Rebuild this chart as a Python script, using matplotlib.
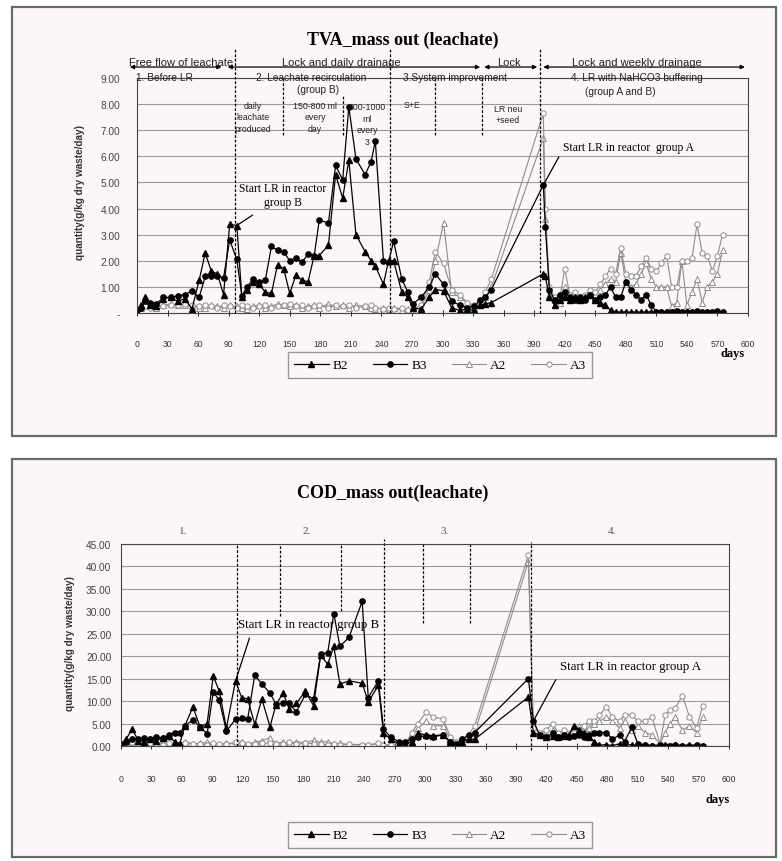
import matplotlib
matplotlib.use('Agg')
import matplotlib.pyplot as plt
from matplotlib.patches import Rectangle

# ---- TVA mass out (leachate), g/kg dry waste/day ----
tva_days = [0, 4, 8, 13, 19, 26, 33, 40, 47, 54,
            61, 67, 73, 79, 85, 91, 98, 103, 108, 114,
            120, 126, 132, 138, 144, 150, 156, 162, 168, 174,
            179, 188, 195, 202, 208, 215, 224, 230, 234, 242,
            247, 252, 260, 266, 271, 279, 287, 293, 301, 309,
            317, 324, 331, 337, 342, 348, 399, 401, 405, 410,
            415, 420, 425, 430, 435, 440, 445, 450, 455, 460,
            465, 470, 475, 480, 485, 490, 495, 500, 505, 510,
            515, 520, 525, 530, 535, 540, 545, 550, 555, 560,
            565, 570, 575]
tva_b2 = [0.05, 0.3, 0.6, 0.3, 0.25, 0.55, 0.6, 0.45, 0.55, 0.15,
          1.25, 2.3, 1.6, 1.5, 0.7, 3.4, 3.35, 0.6, 0.9, 1.2,
          1.1, 0.8, 0.75, 1.85, 1.7, 0.75, 1.45, 1.25, 1.2, 2.2,
          2.2, 2.6, 5.3, 4.4, 5.85, 3.0, 2.35, 2.0, 1.8, 1.1,
          2.0, 2.0, 0.8, 0.6, 0.2, 0.15, 0.6, 0.9, 0.85, 0.2,
          0.1, 0.15, 0.1, 0.3, 0.35, 0.4, 1.5, 1.4, 0.6, 0.3,
          0.5, 0.6, 0.5, 0.6, 0.5, 0.6, 0.7, 0.5, 0.4, 0.3,
          0.1, 0.05, 0.03, 0.05, 0.02, 0.05, 0.03, 0.05, 0.04, 0.05,
          0.03, 0.05, 0.02, 0.05, 0.03, 0.05, 0.04, 0.05, 0.03, 0.05,
          0.02, 0.05, 0.03]
tva_b3 = [0.1, 0.2, 0.45, 0.4, 0.35, 0.6, 0.6, 0.65, 0.7, 0.85,
          0.6, 1.4, 1.4, 1.4, 1.35, 2.8, 2.05, 0.65, 1.0, 1.3,
          1.2, 1.25, 2.55, 2.4, 2.35, 2.0, 2.1, 1.95, 2.25, 2.2,
          3.55, 3.45, 5.65, 5.1, 7.9, 5.9, 5.3, 5.8, 6.6, 2.0,
          1.95, 2.75, 1.3, 0.8, 0.35, 0.6, 1.0, 1.5, 1.1, 0.45,
          0.3, 0.2, 0.25, 0.5, 0.6, 0.9, 4.9, 3.3, 0.9, 0.5,
          0.7, 0.8, 0.6, 0.5, 0.6, 0.5, 0.7, 0.5, 0.6, 0.7,
          1.0, 0.6, 0.6, 1.2, 0.9, 0.7, 0.5, 0.7, 0.3, 0.05,
          0.05, 0.04, 0.05, 0.06, 0.05, 0.04, 0.05, 0.06, 0.05, 0.04,
          0.05, 0.06, 0.05]
tva_a2 = [0.05, 0.2, 0.3, 0.25, 0.2, 0.3, 0.35, 0.3, 0.3, 0.25,
          0.2, 0.2, 0.3, 0.25, 0.2, 0.3, 0.25, 0.2, 0.15, 0.25,
          0.3, 0.2, 0.25, 0.35, 0.3, 0.25, 0.3, 0.2, 0.25, 0.3,
          0.2, 0.35, 0.25, 0.3, 0.2, 0.3, 0.25, 0.2, 0.15, 0.2,
          0.15, 0.2, 0.1, 0.15, 0.1, 0.2, 0.9, 2.0, 3.45, 0.8,
          0.6, 0.4, 0.2, 0.3, 0.6, 1.0, 6.7, 3.6, 0.7, 0.5,
          0.4, 1.0, 0.6, 0.7, 0.5, 0.6, 0.8, 0.7, 0.9, 1.1,
          1.3, 1.2, 2.3, 1.2, 1.0, 1.1, 1.5, 1.9, 1.3, 1.0,
          1.0, 1.0, 0.25, 0.4, 2.0, 0.3, 0.8, 1.3, 0.4, 1.0,
          1.2, 1.5, 2.4]
tva_a3 = [0.1, 0.2, 0.25, 0.2, 0.3, 0.25, 0.3, 0.3, 0.35, 0.3,
          0.25, 0.3, 0.25, 0.2, 0.3, 0.25, 0.2, 0.3, 0.25, 0.2,
          0.25, 0.3, 0.2, 0.25, 0.3, 0.35, 0.25, 0.3, 0.2, 0.25,
          0.3, 0.2, 0.3, 0.25, 0.3, 0.2, 0.25, 0.3, 0.2, 0.15,
          0.2, 0.15, 0.2, 0.1, 0.15, 0.3, 1.2, 2.35, 1.9, 0.9,
          0.7, 0.4, 0.3, 0.4, 0.8, 1.3, 7.65, 4.0, 1.0, 0.6,
          0.5, 1.7, 0.7, 0.8, 0.6, 0.7, 0.9, 0.8, 1.1, 1.4,
          1.7, 1.5, 2.5, 1.5, 1.4, 1.4, 1.8, 2.1, 1.7, 1.6,
          1.9, 2.2, 1.0, 1.0, 2.0, 2.0, 2.1, 3.4, 2.3, 2.2,
          1.6, 2.2, 3.0]

# ---- COD mass out (leachate), g/kg dry waste/day ----
cod_days = [0, 5, 11, 17, 23, 29, 35, 41, 47, 53,
            58, 63, 71, 78, 85, 91, 97, 104, 113, 119,
            125, 132, 139, 147, 153, 160, 166, 173, 182, 190,
            197, 204, 210, 216, 225, 238, 244, 254, 259, 266,
            274, 280, 287, 293, 301, 308, 318, 325, 331, 337,
            343, 349, 402, 407, 413, 419, 426, 431, 437, 442,
            447, 452, 457, 462, 467, 472, 479, 485, 492, 497,
            504, 510, 517, 524, 532, 537, 542, 547, 554, 561,
            568, 574]
cod_b2 = [0.3, 1.5, 3.8, 1.2, 1.0, 1.5, 1.2, 1.8, 2.2, 1.0,
          0.5, 4.5, 8.7, 4.3, 5.0, 15.6, 12.2, 4.0, 14.5, 10.8,
          10.5, 4.8, 10.5, 4.3, 9.2, 11.8, 8.3, 9.5, 12.2, 9.0,
          20.2, 18.2, 22.2, 13.8, 14.5, 14.0, 9.8, 13.5, 3.0, 1.5,
          0.5, 0.3, 1.0, 2.8, 2.5, 2.3, 2.5, 0.8, 0.3, 1.0,
          1.5, 1.5, 10.9, 3.0, 2.5, 2.0, 2.3, 2.0, 2.2, 2.5,
          4.5, 3.5, 3.0, 2.0, 1.0, 0.2, 0.3, 0.1, 0.5, 0.2,
          0.3, 0.1, 0.2, 0.1, 0.1, 0.2, 0.1, 0.2, 0.1, 0.2,
          0.1, 0.1]
cod_b3 = [0.5, 1.0, 1.5, 1.5, 1.8, 1.5, 2.0, 1.8, 2.5, 3.0,
          2.8, 4.5, 5.8, 4.3, 2.7, 12.0, 10.2, 3.3, 6.0, 6.2,
          6.0, 15.8, 13.8, 11.8, 9.3, 9.5, 9.5, 7.6, 11.5, 10.5,
          20.5, 20.8, 29.5, 22.2, 24.2, 32.2, 10.8, 14.5, 3.8, 2.0,
          1.0, 1.0, 1.5, 2.0, 2.3, 2.0, 2.5, 0.8, 0.5, 1.5,
          2.5, 3.0, 15.0, 5.6, 2.5, 2.0, 2.8, 2.0, 2.5, 2.0,
          2.2, 2.5, 2.0, 2.5, 3.0, 3.0, 3.0, 1.5, 2.5, 1.0,
          4.2, 0.5, 0.3, 0.1, 0.2, 0.1, 0.1, 0.2, 0.1, 0.1,
          0.2, 0.1]
cod_a2 = [0.2, 0.8, 1.0, 0.5, 0.6, 0.8, 0.5, 0.7, 0.4, 0.6,
          0.3, 1.0, 0.5, 0.6, 0.8, 0.5, 0.3, 0.6, 0.4, 1.0,
          0.5, 0.8, 1.2, 1.8, 0.6, 0.9, 0.5, 1.0, 0.7, 1.3,
          0.8, 1.0, 0.4, 0.6, 0.3, 0.2, 0.3, 0.5, 0.2, 0.1,
          0.1, 0.2, 2.5, 4.0, 5.5, 4.5, 4.5, 1.5, 1.0, 1.5,
          2.0, 3.0, 41.0, 3.0, 2.5, 3.0, 3.5, 2.5, 3.0, 2.5,
          3.5, 4.5, 3.5, 4.0, 5.0, 5.5, 6.5, 5.5, 4.0, 5.5,
          3.5, 4.5, 3.0, 2.5, 0.5, 3.0, 5.0, 6.5, 3.5, 4.5,
          3.0, 6.5]
cod_a3 = [0.3, 0.5, 0.8, 0.6, 0.4, 0.7, 0.5, 0.3, 0.6, 0.5,
          0.4, 0.6, 0.4, 0.5, 0.3, 0.6, 0.4, 0.5, 0.8, 0.6,
          0.4, 0.5, 0.7, 0.6, 0.4, 0.5, 0.8, 0.4, 0.6, 0.5,
          0.4, 0.3, 0.5, 0.2, 0.4, 0.3, 0.2, 0.6, 0.3, 0.2,
          0.1, 0.2, 3.0, 5.0, 7.5, 6.5, 6.0, 2.0, 1.0, 1.5,
          2.5, 4.5, 42.5, 4.0, 3.0, 3.5, 5.0, 3.0, 3.5, 3.0,
          4.0, 3.5, 4.5, 5.5, 5.5, 6.8, 8.7, 6.5, 5.5, 7.0,
          7.0, 5.5, 5.5, 6.4, 0.5, 7.0, 8.0, 8.5, 11.2, 6.5,
          4.0, 9.0]

series_names = ['B2', 'B3', 'A2', 'A3']
x_ticks = [0, 30, 60, 90, 120, 150, 180, 210, 240, 270, 300, 330, 360, 390,
           420, 450, 480, 510, 540, 570, 600]
tva_yticks = [0, 1, 2, 3, 4, 5, 6, 7, 8, 9]
cod_yticks = [0, 5, 10, 15, 20, 25, 30, 35, 40, 45]

W, H = 782, 862
SERIF = 'Liberation Serif'
SANS = 'Liberation Sans'
PANEL = '#fcf6fb'


def fx(px):
    return px / W


def fy(py):
    return 1 - py / H


def axes_at(fig, left, top, right, bottom):
    return fig.add_axes([fx(left), fy(bottom), (right - left) / W, (bottom - top) / H])


def draw_series(ax, days, b2, b3, a2, a3):
    lines = []
    lines += ax.plot(days, a2, color='#8c8c8c', lw=0.8, marker='^', ms=3.8,
                     mfc='white', mec='#8c8c8c', mew=0.7)
    lines += ax.plot(days, a3, color='#8c8c8c', lw=0.8, marker='o', ms=3.8,
                     mfc='white', mec='#8c8c8c', mew=0.7)
    lines += ax.plot(days, b2, color='black', lw=0.9, marker='^', ms=3.8)
    lines += ax.plot(days, b3, color='black', lw=0.9, marker='o', ms=3.8)
    # legend order B2, B3, A2, A3
    return [lines[2], lines[3], lines[0], lines[1]]


def style_axes(ax, yticks, ylabels, ymax, xpad, ypad):
    ax.set_facecolor('none')
    ax.set_xlim(0, 600)
    ax.set_ylim(0, ymax)
    ax.set_xticks(x_ticks)
    ax.set_yticks(yticks, labels=ylabels)
    ax.grid(axis='y', color='#9a9a9a', lw=0.8)
    ax.grid(axis='x', visible=False)
    ax.set_axisbelow(True)
    ax.tick_params(axis='x', direction='inout', length=4, width=0.6, pad=xpad,
                   labelsize=6.2, labelcolor='#333333')
    ax.tick_params(axis='y', length=0, pad=ypad, labelsize=7.3, labelcolor='#444444')
    for lab in ax.get_xticklabels() + ax.get_yticklabels():
        lab.set_fontfamily(SANS)
    for sp in ax.spines.values():
        sp.set_color('#444444')
        sp.set_linewidth(0.8)


fig = plt.figure(figsize=(W / 100, H / 100), dpi=100)

# panel frames
for top, bottom in [(8, 437), (460, 858)]:
    fig.add_artist(Rectangle((fx(12), fy(bottom)), (776 - 12) / W, (bottom - top) / H,
                             transform=fig.transFigure, facecolor=PANEL,
                             edgecolor='#6a6a6a', lw=1.6, zorder=0))

# ================= TVA panel =================
ax1 = axes_at(fig, 137, 79, 748, 314)
handles = draw_series(ax1, tva_days, tva_b2, tva_b3, tva_a2, tva_a3)
tva_labels = ['-'] + ['%.2f' % v for v in tva_yticks[1:]]
style_axes(ax1, tva_yticks, tva_labels, 9, 17, 12)

dash = (0, (2.2, 1.4))
for d, y0, y1 in [(96, 0, 10.1), (143, 6.83, 9.0), (202, 6.83, 8.3), (248.5, 0, 10.1),
                  (293, 6.83, 9.0), (339, 6.83, 9.0), (396, 0, 10.1)]:
    ax1.plot([d, d], [y0, y1], color='black', lw=0.9, ls=dash, clip_on=False)

# drainage regime arrows above the plot
for d0, d1 in [(-7, 83), (89, 337), (341, 393), (399, 597)]:
    ax1.annotate('', xy=(d1, 9.42), xytext=(d0, 9.42), annotation_clip=False,
                 arrowprops=dict(arrowstyle='<|-|>', color='black', lw=0.9,
                                 mutation_scale=6, shrinkA=0, shrinkB=0))

hdr = dict(transform=fig.transFigure, fontfamily=SANS, fontsize=8, ha='center', color='#222222')
fig.text(fx(181), fy(66), 'Free flow of leachate', va='baseline', **hdr)
fig.text(fx(341), fy(66), 'Lock and daily drainage', va='baseline', **hdr)
fig.text(fx(509), fy(66), 'Lock', va='baseline', **hdr)
fig.text(fx(637), fy(66), 'Lock and weekly drainage', va='baseline', **hdr)

row = dict(transform=fig.transFigure, fontfamily=SANS, fontsize=7.3, ha='center',
           va='center', color='#222222')
fig.text(fx(164), fy(78), '1. Before LR', **row)
fig.text(fx(311), fy(78), '2. Leachate recirculation', **row)
fig.text(fx(455), fy(78), '3.System improvement', **row)
fig.text(fx(637), fy(78), '4. LR with NaHCO3 buffering', **row)
fig.text(fx(620), fy(92), '(group A and B)', **row)
fig.text(fx(318), fy(90), '(group B)', **row)

small = dict(transform=fig.transFigure, fontfamily=SANS, fontsize=6.3, ha='center',
             va='center', color='#222222', linespacing=1.35)
fig.text(fx(253), fy(118), 'daily\nleachate\nproduced', **small)
fig.text(fx(315), fy(118), '150-800 ml\nevery\nday', **small)
fig.text(fx(367), fy(125), '800-1000\nml\nevery\n3', **small)
fig.text(fx(412), fy(106), 'S+E', **small)
fig.text(fx(508), fy(115), 'LR neu\n+seed', **small)

ax1.annotate('Start LR in reactor\ngroup B', xy=(96, 3.3), xytext=(fx(283), fy(196)),
             textcoords='figure fraction', ha='center', va='center', fontfamily=SERIF,
             fontsize=8.4, linespacing=1.15,
             arrowprops=dict(arrowstyle='-', color='black', lw=0.9, shrinkA=6, shrinkB=1))
ax1.annotate('Start LR in reactor  group A', xy=(399, 4.9), xytext=(fx(563), fy(148)),
             textcoords='figure fraction', ha='left', va='center', fontfamily=SERIF,
             fontsize=8.4,
             arrowprops=dict(arrowstyle='-', color='black', lw=0.9, shrinkA=2, shrinkB=1,
                             relpos=(0, 0.3)))

fig.text(fx(733), fy(354), 'days', transform=fig.transFigure, fontfamily=SERIF,
         fontweight='bold', fontsize=9, ha='center', va='center')
fig.text(fx(80), fy(192), 'quantity(g/kg dry waste/day)', transform=fig.transFigure,
         fontfamily=SANS, fontweight='bold', fontsize=7.2, rotation=90,
         ha='center', va='center', color='#333333')
fig.text(fx(403), fy(40), 'TVA_mass out (leachate)', transform=fig.transFigure,
         fontfamily=SERIF, fontweight='bold', fontsize=13, ha='center', va='center')

fig.legend(handles, series_names, loc='center', bbox_to_anchor=(fx(440), fy(366)),
           ncol=4, frameon=True, fancybox=False, edgecolor='#808080', facecolor=PANEL,
           prop={'family': SERIF, 'size': 9.5}, handlelength=2.6, columnspacing=1.9,
           handletextpad=0.3, borderpad=0.5)

# ================= COD panel =================
ax2 = axes_at(fig, 121, 545, 729, 747)
handles2 = draw_series(ax2, cod_days, cod_b2, cod_b3, cod_a2, cod_a3)
cod_labels = ['%.2f' % v for v in cod_yticks]
style_axes(ax2, cod_yticks, cod_labels, 45, 18, 7)

for d, y0, y1 in [(114, 0, 45), (157, 29, 45), (217, 30, 45), (260, -0.5, 46.2),
                  (298, 27.5, 45), (344, 27.5, 45), (405, -1, 45.5)]:
    ax2.plot([d, d], [y0, y1], color='black', lw=0.9, ls=dash, clip_on=False)

for px, lab in [(183, '1.'), (307, '2.'), (445, '3.'), (612, '4.')]:
    fig.text(fx(px), fy(532), lab, transform=fig.transFigure, fontfamily=SERIF,
             fontsize=8, ha='center', va='center', color='#555555')

ax2.annotate('Start LR in reactor group B', xy=(113, 14.5), xytext=(fx(238), fy(625)),
             textcoords='figure fraction', ha='left', va='center', fontfamily=SERIF,
             fontsize=9.3,
             arrowprops=dict(arrowstyle='-', color='black', lw=0.9, shrinkA=4, shrinkB=1,
                             relpos=(0.1, 0)))
ax2.annotate('Start LR in reactor group A', xy=(407, 5.6), xytext=(fx(560), fy(667)),
             textcoords='figure fraction', ha='left', va='center', fontfamily=SERIF,
             fontsize=9.3,
             arrowprops=dict(arrowstyle='-', color='black', lw=0.9, shrinkA=4, shrinkB=1,
                             relpos=(0, 0)))

fig.text(fx(718), fy(800), 'days', transform=fig.transFigure, fontfamily=SERIF,
         fontweight='bold', fontsize=9, ha='center', va='center')
fig.text(fx(70), fy(644), 'quantity(g/kg dry waste/day)', transform=fig.transFigure,
         fontfamily=SANS, fontweight='bold', fontsize=7.2, rotation=90,
         ha='center', va='center', color='#333333')
fig.text(fx(393), fy(493), 'COD_mass out(leachate)', transform=fig.transFigure,
         fontfamily=SERIF, fontweight='bold', fontsize=13, ha='center', va='center')

fig.legend(handles2, series_names, loc='center', bbox_to_anchor=(fx(440), fy(836)),
           ncol=4, frameon=True, fancybox=False, edgecolor='#808080', facecolor=PANEL,
           prop={'family': SERIF, 'size': 9.5}, handlelength=2.6, columnspacing=1.9,
           handletextpad=0.3, borderpad=0.5)

fig.savefig('out.png', dpi=100, facecolor='white')
